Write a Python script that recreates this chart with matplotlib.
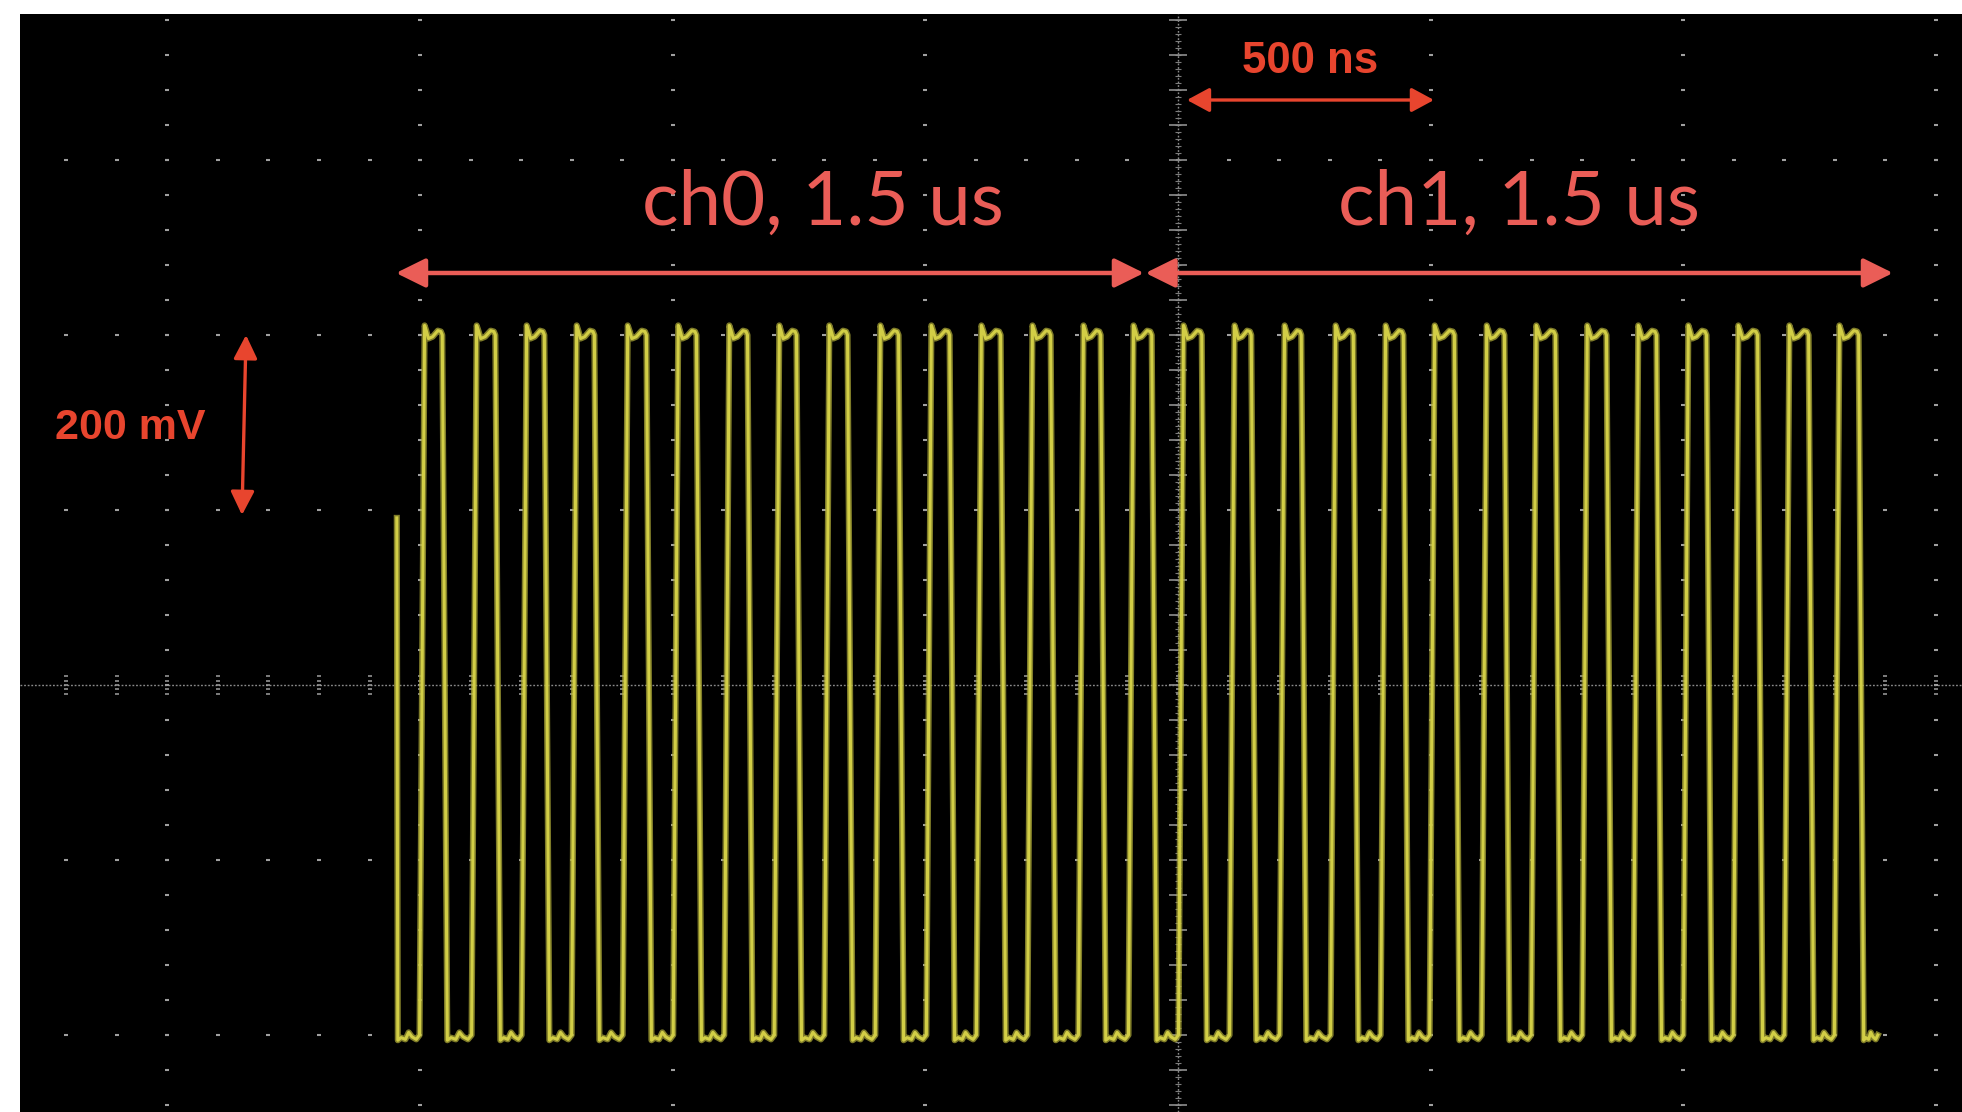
import numpy as np
import matplotlib
matplotlib.use("Agg")
import matplotlib.pyplot as plt
from matplotlib.patches import FancyArrowPatch

# scope settings: 500 ns/div, 200 mV/div
t_per_div = 500
v_per_div = 200

# trace (ns, mV)
start_ns = -1546          # trace begins here, part way up
start_mv = 191
end_ns = 1385             # trace ends here on the low level
high_mv = 400
low_mv = -400
edge_ns = 10              # rise / fall time

# time where each rising edge reaches the top
rise_ns = [-1491, -1388, -1289, -1190, -1089, -989, -888, -789, -690, -589,
           -488, -389, -288, -187, -88, 11, 112, 211, 312, 411,
           508, 611, 709, 810, 911, 1010, 1109, 1210, 1309]
# time where each falling edge leaves the top
fall_ns = [-1456, -1351, -1254, -1155, -1052, -953, -852, -755, -654, -553,
           -452, -351, -252, -153, -52, 47, 145, 244, 347, 446,
           547, 646, 747, 848, 947, 1046, 1147, 1248, 1347]

# small ringing on the flat parts (fraction of the flat, offset in mV)
top_frac = [0.0, 0.08, 0.22, 0.45, 0.75, 0.92, 1.0]
top_mv = [11, 6, -4, -2, 5, 4, 0]
bot_frac = [0.0, 0.15, 0.35, 0.5, 0.65, 0.85, 1.0]
bot_mv = [-6, -3, -5, 3, -2, -5, 0]

# labels
ch_labels = ["ch0, 1.5 us", "ch1, 1.5 us"]
time_label = "500 ns"
volt_label = "200 mV"


def build_trace():
    t = [start_ns]
    v = [start_mv]

    def add_low(t0, t1):
        for f, dv in zip(bot_frac, bot_mv):
            t.append(t0 + f * (t1 - t0))
            v.append(low_mv + dv)

    def add_high(t0, t1):
        for f, dv in zip(top_frac, top_mv):
            t.append(t0 + f * (t1 - t0))
            v.append(high_mv + dv)

    add_low(start_ns + 2, rise_ns[0] - edge_ns)
    for i in range(len(rise_ns)):
        add_high(rise_ns[i], fall_ns[i])
        nxt = rise_ns[i + 1] - edge_ns if i + 1 < len(rise_ns) else end_ns
        add_low(fall_ns[i] + edge_ns, nxt)
    return np.array(t), np.array(v)


fig = plt.figure(figsize=(19.62, 11.12), dpi=100, facecolor="white")
ax = fig.add_axes([20 / 1962, 0, 1942 / 1962, 1098 / 1112])
ax.set_facecolor("black")
xmin, xmax = -2291.7, 1551.6
ymin, ymax = -488, 766.9
ax.set_xlim(xmin, xmax)
ax.set_ylim(ymin, ymax)
ax.set_xticks([])
ax.set_yticks([])
for s in ax.spines.values():
    s.set_visible(False)

# graticule
dot_col = "#a0a0a0"
major_t = [k * t_per_div for k in range(-5, 4) if xmin < k * t_per_div < xmax]
minor_t = [k * t_per_div / 5 for k in range(-25, 20) if xmin < k * t_per_div / 5 < xmax]
major_v = [k * v_per_div for k in range(-3, 5) if ymin < k * v_per_div < ymax]
minor_v = [k * v_per_div / 5 for k in range(-15, 25) if ymin < k * v_per_div / 5 < ymax]

for mt in major_t:
    if mt == 0:
        continue
    ax.plot([mt] * len(minor_v), minor_v, ls="none", marker="_", ms=3,
            mew=1.5, color=dot_col, zorder=1)
for mv in major_v:
    if mv == 0:
        continue
    ax.plot(minor_t, [mv] * len(minor_t), ls="none", marker="_", ms=3,
            mew=1.5, color=dot_col, zorder=1)

# centre axes with their tick ladders
ax.axhline(0, color="#8a8a8a", lw=1.0, ls=(0, (1.3, 1.3)), zorder=1)
ax.axvline(0, color="#8a8a8a", lw=1.0, ls=(0, (1.3, 1.3)), zorder=1)
for off in [-10.3, -5.1, 0, 5.1, 10.3]:
    ax.plot(minor_t, [off] * len(minor_t), ls="none", marker="_", ms=2.6,
            mew=1.1, color=dot_col, zorder=1)
fine_v = np.arange(-488, 768, v_per_div / 25)
ax.plot(np.zeros(len(fine_v)), fine_v, ls="none", marker="_", ms=4,
        mew=0.8, color="#7c7c7c", zorder=1)
ax.plot([0] * len(minor_v), minor_v, ls="none", marker="_", ms=13,
        mew=1.2, color="#8e8e8e", zorder=1)

# waveform with a soft glow
tt, vv = build_trace()
ax.plot(tt, vv, color="#aaa636", lw=4.4, alpha=0.75, solid_joinstyle="round", zorder=3)
ax.plot(tt, vv, color="#d2ce46", lw=2.2, solid_joinstyle="round", zorder=4)

# annotations
coral = "#ea5d57"
red = "#e8452e"


def arrow(p0, p1, col, lw, hl, hw):
    a = FancyArrowPatch(p0, p1, arrowstyle=f"<|-|>,head_length={hl},head_width={hw}",
                        color=col, lw=lw, shrinkA=0, shrinkB=0, zorder=6)
    ax.add_patch(a)


arrow((-1547.6, 470.9), (-67.3, 470.9), coral, 3.2, 18, 8.9)
arrow((-64.3, 470.9), (1415, 470.9), coral, 3.2, 18, 8.9)
arrow((17.8, 668.6), (506.6, 668.6), red, 2.4, 13.7, 7.4)
arrow((-1844.4, 400), (-1852.4, 194.3), red, 2.4, 14.4, 7.2)

ax.text(-702.6, 525.7, ch_labels[0], color=coral, fontsize=55, family="Lato",
        ha="center", va="baseline", zorder=7)
ax.text(674.8, 525.7, ch_labels[1], color=coral, fontsize=55, family="Lato",
        ha="center", va="baseline", zorder=7)
ax.text(261, 699, time_label, color=red, fontsize=31.5, family="Liberation Sans",
        weight="bold", ha="center", va="baseline", zorder=7)
ax.text(-2074, 281, volt_label, color=red, fontsize=31, family="Liberation Sans",
        weight="bold", ha="center", va="baseline", zorder=7)

fig.savefig("out.png", dpi=100, facecolor="white")
